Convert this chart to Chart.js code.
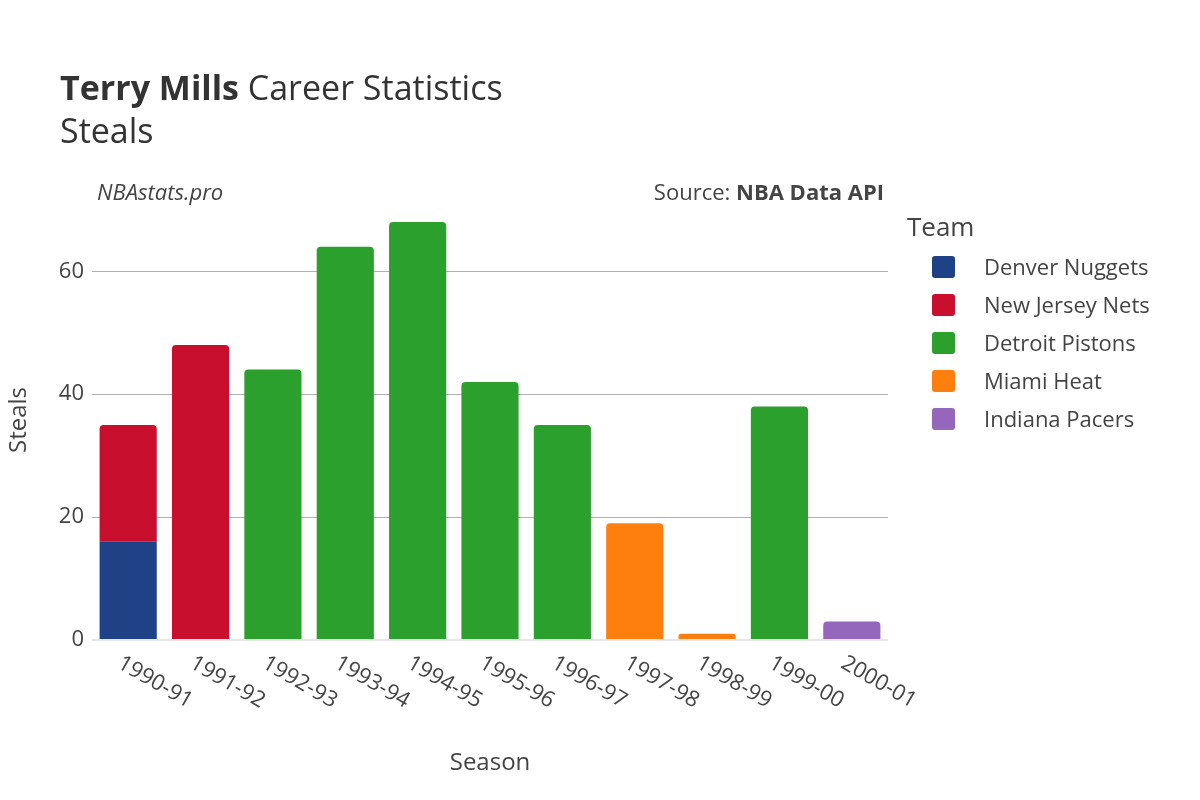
<!DOCTYPE html>
<html><head><meta charset="utf-8">
<script src="https://cdn.jsdelivr.net/npm/chart.js@4"></script>
<style>html,body{margin:0;padding:0;background:#fff}#w{width:1200px;height:800px}</style>
</head><body><div id="w"><canvas id="c"></canvas></div>
<script>
const seasons=["1990-91","1991-92","1992-93","1993-94","1994-95","1995-96","1996-97","1997-98","1998-99","1999-00","2000-01"];
const teams=["Denver Nuggets","New Jersey Nets","Detroit Pistons","Miami Heat","Indiana Pacers"];
const colors=["#1f4287","#c8102e","#2ca02c","#ff7f0e","#9467bd"];
const denver=[16,null,null,null,null,null,null,null,null,null,null];
const nets=[19,48,null,null,null,null,null,null,null,null,null];
const pistons=[null,null,44,64,68,42,35,null,null,38,null];
const heat=[null,null,null,null,null,null,null,19,1,null,null];
const pacers=[null,null,null,null,null,null,null,null,null,null,3];
const yTicks=[0,20,40,60];
const series=[denver,nets,pistons,heat,pacers];
const F='"Open Sans","Noto Sans",sans-serif';
const deco={id:'deco',afterDraw(ch){const c=ch.ctx;c.save();c.textBaseline='alphabetic';
c.fillStyle='#333';c.font='bold 34px '+F;c.fillText('Terry Mills',60,100);let w=c.measureText('Terry Mills ').width;
c.font='34px '+F;c.fillText('Career Statistics',60+w,100);c.fillText('Steals',60,143);
c.fillStyle='#444';c.font='italic 22px '+F;c.fillText('NBAstats.pro',97,200);
c.textAlign='right';c.font='bold 22px '+F;c.fillText('NBA Data API',884,200);let bw=c.measureText('NBA Data API').width;
c.font='22px '+F;c.fillText('Source: ',884-bw,200);
c.textAlign='left';c.font='26px '+F;c.fillStyle='#444';c.fillText('Team',907,236);
c.font='22px '+F;teams.forEach((t,i)=>{const y=267+i*38;c.fillStyle=colors[i];c.beginPath();c.roundRect(932,y-11,23,22,3);c.fill();c.fillStyle='#444';c.fillText(t,984,y+8);});
c.font='24px '+F;c.textAlign='center';c.fillText('Season',490,770);
c.save();c.translate(26,420);c.rotate(-Math.PI/2);c.fillText('Steals',0,0);c.restore();
const xs=ch.scales.x;c.font='22px '+F;c.textAlign='left';
seasons.forEach((s,i)=>{const x=xs.getPixelForValue(i);c.save();c.translate(x-8,660);c.rotate(Math.PI/6);c.fillText(s,0,8);c.restore();});
c.restore();}};
new Chart(document.getElementById('c'),{type:'bar',
data:{labels:seasons,datasets:series.map((d,i)=>({label:teams[i],data:d,backgroundColor:colors[i],borderRadius:i===0?0:{topLeft:4,topRight:4},borderSkipped:'bottom',barPercentage:0.79,categoryPercentage:1}))},
options:{responsive:true,maintainAspectRatio:false,animation:false,
layout:{padding:{left:0,right:312,top:200,bottom:0}},
plugins:{legend:{display:false},tooltip:{enabled:false}},
scales:{x:{stacked:true,grid:{display:false},border:{display:false},ticks:{display:false},afterFit(s){s.height=160;}},
y:{stacked:true,min:0,max:71.6,afterBuildTicks(s){s.ticks=yTicks.map(v=>({value:v}));},afterFit(s){s.width=92;},
grid:{color:ctx=>ctx.tick&&ctx.tick.value===0?'#e6e6e6':'#b0b0b0',lineWidth:ctx=>ctx.tick&&ctx.tick.value===0?2:1,drawTicks:false},border:{display:false},
ticks:{color:'#444',font:{size:22,family:F},padding:8}}}},
plugins:[deco]});
</script></body></html>
